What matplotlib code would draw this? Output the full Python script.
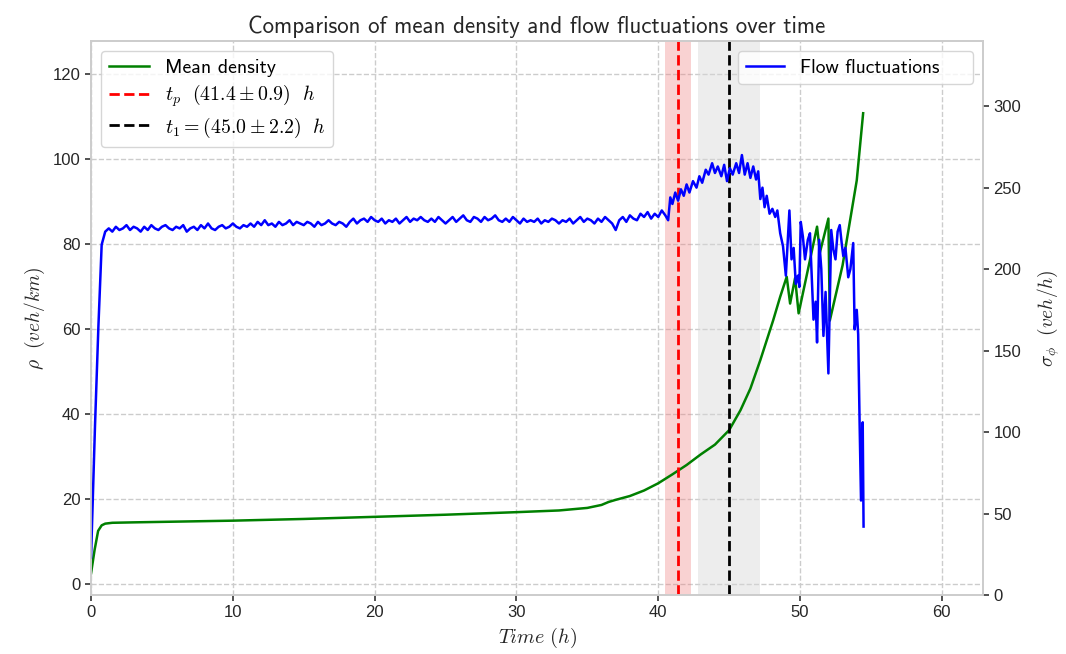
import numpy as np
import matplotlib
matplotlib.use("Agg")
import matplotlib.pyplot as plt

plt.rcParams['font.family'] = ['Liberation Sans', 'DejaVu Sans']
plt.rcParams['mathtext.fontset'] = 'cm'
plt.rcParams['axes.formatter.use_mathtext'] = False

# ---- data: mean density (left axis) ----
dens_t = [0, 0.25, 0.5, 0.75, 1.0, 1.5, 3, 10, 15, 20, 25, 30, 33, 35, 36, 36.5, 37, 38, 39,
          40, 41, 42, 43, 44, 45, 45.8, 46.5, 47.2, 48.1, 48.6, 49.06, 49.3, 49.65, 49.9,
          51.2, 51.4, 52.0, 52.1, 53.0, 54.0, 54.45]
dens_v = [2.5, 8.0, 12.5, 13.8, 14.2, 14.4, 14.5, 14.9, 15.3, 15.8, 16.3, 16.9, 17.3, 17.9, 18.6,
          19.3, 19.8, 20.7, 22.0, 23.7, 25.8, 28.0, 30.5, 32.8, 36.2, 40.9, 46.0, 52.7, 62.0,
          67.6, 72.3, 66.0, 72.0, 63.7, 84.1, 78.0, 86.0, 62.0, 75.0, 95.0, 110.8]

# ---- data: flow fluctuations (right axis) ----
flow_start_t = [0, 0.28, 0.52, 0.75, 1.0]
flow_start_v = [23, 104, 165, 215, 223]
flow_mid_t0, flow_mid_dt = 1.25, 0.25
flow_mid_v = [225, 223, 226, 224, 225, 227, 224, 226,
              225, 223, 226, 224, 227, 225, 224, 226,
              227, 225, 224, 226, 225, 227, 223, 225,
              226, 224, 227, 225, 228, 225, 224, 226,
              227, 225, 226, 228, 226, 225, 227, 226,
              228, 226, 229, 227, 230, 227, 228, 226,
              229, 227, 228, 230, 227, 229, 228, 227,
              229, 228, 226, 229, 227, 228, 230, 228,
              227, 229, 228, 226, 229, 231, 228, 230,
              231, 229, 232, 230, 229, 231, 228, 230,
              229, 231, 228, 230, 232, 229, 231, 230,
              232, 230, 229, 231, 229, 232, 230, 228,
              230, 232, 229, 231, 233, 230, 229, 232,
              231, 229, 232, 230, 231, 233, 230, 229,
              231, 229, 232, 230, 228, 231, 229, 230,
              229, 231, 228, 230, 229, 231, 230, 228,
              230, 229, 231, 228, 230, 232, 229, 231,
              230, 228, 231, 229, 232, 230, 228, 224,
              230, 232, 229, 233, 231, 230, 234, 232,
              235, 231, 234, 232, 236, 233]
flow_end_t = [40.7, 40.85, 41.0, 41.2, 41.4, 41.6, 41.8, 42.0, 42.2, 42.45, 42.7, 42.9, 43.1,
              43.35, 43.55, 43.8, 44.0, 44.2, 44.45, 44.65, 44.85, 45.05, 45.25, 45.5, 45.7,
              45.9, 46.1, 46.3, 46.5, 46.7, 46.9, 47.05, 47.2, 47.35, 47.5, 47.65, 47.85, 48.05,
              48.25, 48.4, 48.6, 48.8, 49.0, 49.25, 49.4, 49.55, 49.7, 49.85, 49.95, 50.05,
              50.2, 50.35, 50.55, 50.7, 50.85, 50.95, 51.1, 51.2, 51.35, 51.5, 51.65, 51.8,
              52.0, 52.2, 52.35, 52.5, 52.65, 52.8, 52.95, 53.05, 53.2, 53.4, 53.55, 53.75,
              53.85, 54.0, 54.1, 54.2, 54.3, 54.38, 54.42, 54.48]
flow_end_v = [230, 244, 240, 247, 242, 249, 245, 252, 247, 254, 250, 257, 253, 261, 258, 265,
              259, 263, 257, 264, 254, 262, 258, 265, 259, 270, 258, 265, 256, 263, 255, 260,
              243, 250, 238, 245, 234, 237, 232, 236, 222, 214, 196, 236, 206, 213, 191, 196,
              189, 229, 220, 206, 218, 222, 190, 169, 180, 155, 218, 200, 159, 186, 136, 224,
              212, 206, 223, 227, 215, 208, 213, 195, 200, 216, 163, 175, 160, 106, 58, 60,
              106, 42]

t_p, t_p_err = 41.4, 0.9
t_1, t_1_err = 45.0, 2.2

flow_mid_t = list(flow_mid_t0 + flow_mid_dt * np.arange(len(flow_mid_v)))
flow_t = flow_start_t + flow_mid_t + flow_end_t
flow_v = flow_start_v + flow_mid_v + flow_end_v

sans = ['cmss10', 'DejaVu Sans']

fig = plt.figure(figsize=(10.66, 6.54), dpi=100)
ax1 = fig.add_axes([0.0854, 0.0902, 0.8367, 0.8471])
ax2 = ax1.twinx()

grid_kw = dict(color='#cccccc', linestyle='--', linewidth=1.0)
ax1.grid(True, **grid_kw)
ax1.set_axisbelow(True)

ax1.axvspan(t_p - t_p_err, t_p + t_p_err, color='#f08080', alpha=0.35, lw=0)
ax1.axvspan(t_1 - t_1_err, t_1 + t_1_err, color='#d8d8d8', alpha=0.45, lw=0)
ax1.plot(dens_t, dens_v, color='green', lw=1.8, label='Mean density')
ax1.axvline(t_p, color='red', ls='--', lw=2, label=r'$t_p\ \ (41.4 \pm 0.9)\ \ h$')
ax1.axvline(t_1, color='black', ls='--', lw=2, label=r'$t_1 = (45.0 \pm 2.2)\ \ h$')

ax2.plot(flow_t, flow_v, color='blue', lw=1.8, label='Flow fluctuations    ')

ax1.set_xlim(0, 62.9)
ax1.set_ylim(-2.6, 127.8)
ax2.set_ylim(0, 340)
ax1.set_xticks([0, 10, 20, 30, 40, 50, 60])
ax1.set_yticks([0, 20, 40, 60, 80, 100, 120])
ax2.set_yticks([0, 50, 100, 150, 200, 250, 300])

for ax in (ax1, ax2):
    for s in ax.spines.values():
        s.set_color('#cccccc')
        s.set_linewidth(1.2)
    ax.tick_params(labelsize=12, length=4, width=1.2, color='#333333', labelcolor='#262626')

ax1.set_xlabel(r'$Time\ (h)$', fontsize=14.5, color='#262626')
ax1.set_ylabel(r'$\rho\ \ (veh/km)$', fontsize=14, color='#262626')
ax2.set_ylabel(r'$\sigma_{\phi}\ \ (veh/h)$', fontsize=14, color='#262626', labelpad=10)
ax1.set_title('Comparison of mean density and flow fluctuations over time', fontsize=16.5,
              color='#262626', family=sans)

leg1 = ax1.legend(loc='upper left', prop={'family': sans, 'size': 14.3}, framealpha=0.8,
                  edgecolor='#cccccc', labelspacing=0.3)
leg2 = ax2.legend(loc='upper right', prop={'family': sans, 'size': 14}, framealpha=0.8,
                  edgecolor='#cccccc')

fig.savefig('out.png', dpi=100)
